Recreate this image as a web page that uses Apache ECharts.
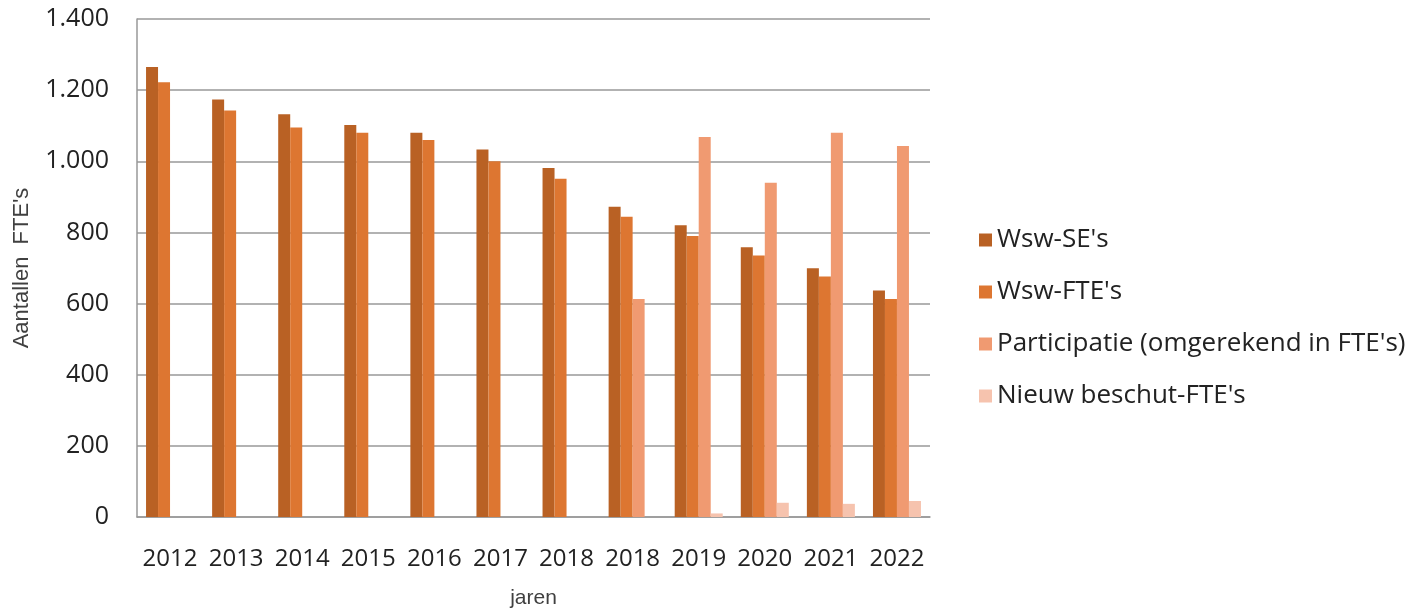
<!DOCTYPE html>
<html>
<head>
<meta charset="utf-8">
<script src="https://cdn.jsdelivr.net/npm/echarts@6/dist/echarts.min.js"></script>
<style>
    html, body { margin: 0; padding: 0; background: #fff; }
    #main { width: 1422px; height: 614px; }
</style>
</head>
<body>
<div id="main"></div>
<script>
// categories (jaren), 2018 appears twice as in the original
let years = ["2012", "2013", "2014", "2015", "2016", "2017", "2018", "2018", "2019", "2020", "2021", "2022"];

let wswSE = [1265, 1174, 1132, 1102, 1080, 1033, 981, 872, 820, 758, 699, 637];
let wswFTE = [1222, 1143, 1095, 1080, 1060, 1000, 951, 844, 790, 735, 676, 613];
let participatie = [null, null, null, null, null, null, null, 613, 1068, 940, 1080, 1043];
let nieuwBeschut = [null, null, null, null, null, null, null, null, 10, 40, 37, 45];

let seriesNames = ["Wsw-SE's", "Wsw-FTE's", "Participatie (omgerekend in FTE's)", "Nieuw beschut-FTE's"];
let colors = ["#b96124", "#dd7631", "#f09a71", "#f6c3ae"];

let font = "Open Sans";

function makeBar(name, values, color) {
    return {
        name: name,
        type: "bar",
        data: values,
        barWidth: 12,
        barGap: "0%",
        itemStyle: { color: color }
    };
}

let myChart = echarts.init(document.getElementById("main"));

let option = {
    animation: false,
    color: colors,
    textStyle: { fontFamily: font },
    grid: { left: 137, right: 492, top: 19, bottom: 95 },
    legend: {
        orient: "vertical",
        left: 974,
        top: 222,
        itemWidth: 13,
        itemHeight: 13,
        itemGap: 26,
        icon: "rect",
        textStyle: { fontFamily: font, fontSize: 26, color: "#222" },
        data: seriesNames
    },
    xAxis: {
        type: "category",
        data: years,
        name: "jaren",
        nameLocation: "middle",
        nameGap: 71,
        nameTextStyle: { fontFamily: "Liberation Sans", fontSize: 21, color: "#404040" },
        axisLine: { lineStyle: { color: "#999", width: 1.5 } },
        axisTick: { show: false },
        axisLabel: { interval: 0, fontFamily: font, fontSize: 24, color: "#222", margin: 30 }
    },
    yAxis: {
        type: "value",
        min: 0,
        max: 1400,
        interval: 200,
        name: "Aantallen  FTE's",
        nameLocation: "middle",
        nameGap: 104,
        nameTextStyle: { fontFamily: "Liberation Sans", fontSize: 22, color: "#404040" },
        axisLine: { show: true, lineStyle: { color: "#999", width: 1.5 } },
        axisTick: { show: false },
        splitLine: { lineStyle: { color: "#999", width: 1.5 } },
        axisLabel: {
            fontFamily: font,
            fontSize: 25,
            color: "#222",
            margin: 28,
            formatter: (v) => v.toString().replace(/\B(?=(\d{3})+(?!\d))/g, ".")
        }
    },
    series: [
        makeBar(seriesNames[0], wswSE, colors[0]),
        makeBar(seriesNames[1], wswFTE, colors[1]),
        makeBar(seriesNames[2], participatie, colors[2]),
        makeBar(seriesNames[3], nieuwBeschut, colors[3])
    ]
};

myChart.setOption(option);
</script>
</body>
</html>
